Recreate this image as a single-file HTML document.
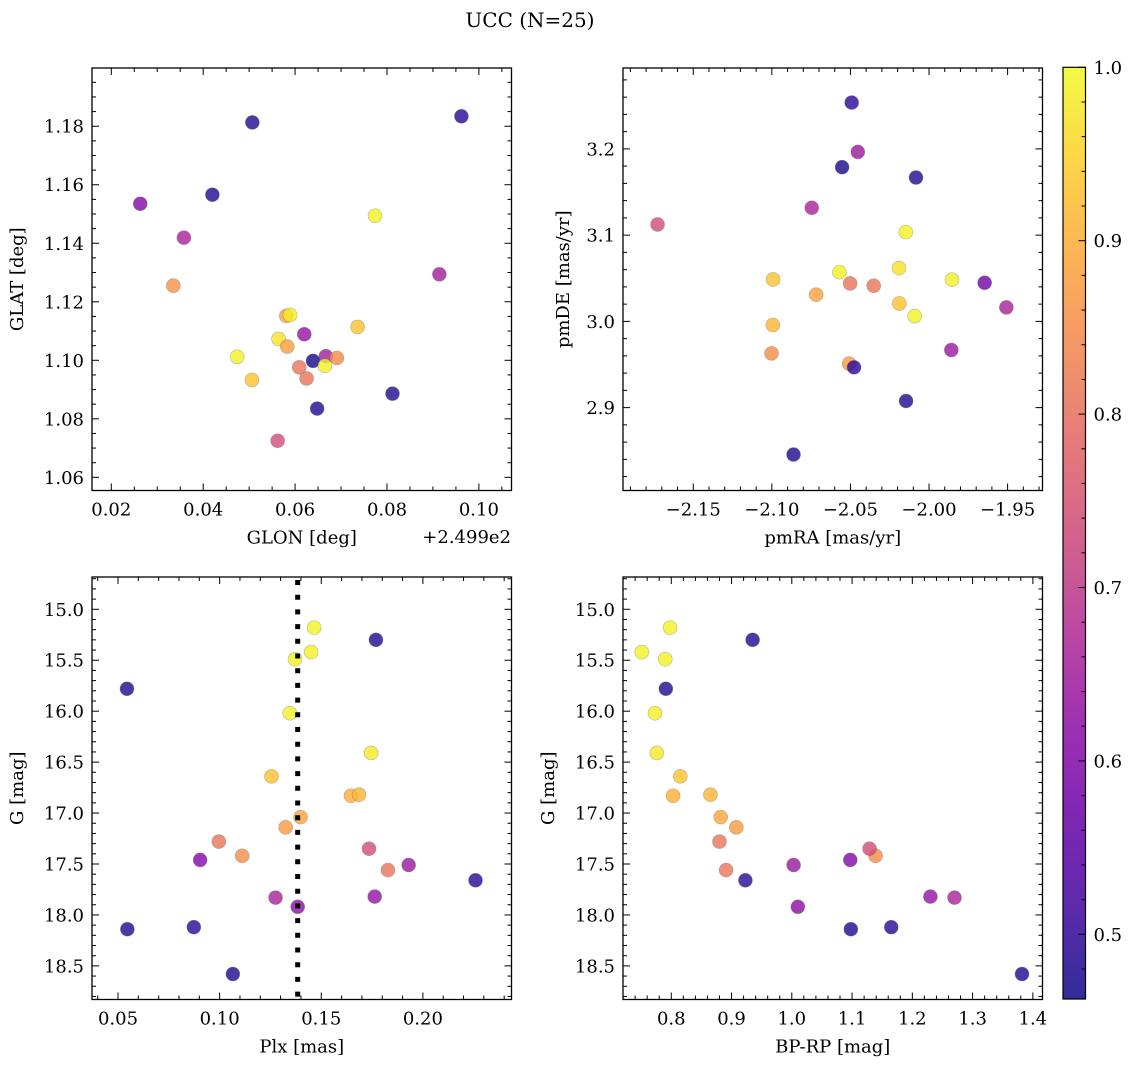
<!DOCTYPE html>
<html><head><meta charset="utf-8"><style>
html,body{margin:0;padding:0;background:#fff;}
svg{display:block;font-family:"DejaVu Serif","Liberation Serif",serif;}
</style></head><body>
<svg id="fig" width="1135" height="1067" viewBox="0 0 1135 1067" xmlns="http://www.w3.org/2000/svg">
<rect width="1135" height="1067" fill="#fff"/>
<text x="530" y="27" font-size="20" text-anchor="middle">UCC (N=25)</text>
</svg>
<script>
// ---- data ----
const glon = [0.0507,0.0962,0.0263,0.0420,0.0358,0.0774,0.0335,0.0914,0.0581,0.0589,0.0736,0.0620,0.0564,0.0583,0.0474,0.0667,0.0691,0.0639,0.0609,0.0665,0.0506,0.0625,0.0812,0.0648,0.0562];
const glat = [1.1813,1.1834,1.1535,1.1566,1.1419,1.1494,1.1255,1.1294,1.1152,1.1155,1.1114,1.1089,1.1073,1.1047,1.1012,1.1014,1.1008,1.0998,1.0976,1.0981,1.0933,1.0938,1.0886,1.0835,1.0725];
const probTL = [0.48,0.49,0.60,0.48,0.66,0.99,0.86,0.65,0.88,0.99,0.93,0.63,0.97,0.88,0.99,0.65,0.85,0.47,0.81,0.99,0.93,0.81,0.48,0.48,0.74];

const pmra = [-2.0492,-2.0453,-2.0553,-2.0083,-2.0746,-2.1727,-2.0148,-2.0992,-2.0570,-2.0502,-2.0352,-2.0191,-1.9854,-1.9646,-2.0718,-2.0189,-2.0091,-1.9508,-2.0994,-2.1002,-1.9858,-2.0508,-2.0477,-2.0146,-2.0862];
const pmde = [3.2537,3.1965,3.1788,3.1668,3.1317,3.1124,3.1035,3.0486,3.0571,3.0440,3.0413,3.0618,3.0483,3.0448,3.0309,3.0208,3.0062,3.0162,2.9958,2.9629,2.9668,2.9510,2.9467,2.9077,2.8456];
const probTR = [0.49,0.64,0.47,0.48,0.66,0.74,0.99,0.93,0.99,0.81,0.81,0.97,0.99,0.58,0.88,0.93,0.99,0.66,0.91,0.85,0.64,0.87,0.49,0.48,0.48];

const plx  = [0.1465,0.1769,0.1450,0.1371,0.0544,0.1345,0.1745,0.1255,0.1646,0.1686,0.1398,0.1325,0.0996,0.1111,0.0904,0.1735,0.1930,0.1828,0.2259,0.1275,0.1763,0.1384,0.0546,0.0873,0.1065];
const gPlx = [15.18,15.30,15.42,15.49,15.78,16.02,16.41,16.64,16.83,16.82,17.04,17.14,17.28,17.42,17.46,17.35,17.51,17.56,17.66,17.83,17.82,17.92,18.14,18.12,18.58];
const probBL = [0.99,0.48,0.99,0.99,0.48,0.99,0.98,0.93,0.90,0.91,0.89,0.87,0.81,0.85,0.60,0.74,0.64,0.81,0.49,0.66,0.63,0.62,0.48,0.49,0.48];
const plxLine = [0.1384];

const bprp = [0.798,0.935,0.751,0.790,0.791,0.773,0.776,0.815,0.803,0.865,0.882,0.908,0.880,1.139,1.097,1.129,1.003,0.891,0.923,1.270,1.230,1.010,1.098,1.165,1.382];
const gCmd = [15.18,15.30,15.42,15.49,15.78,16.02,16.41,16.64,16.83,16.82,17.04,17.14,17.28,17.42,17.46,17.35,17.51,17.56,17.66,17.83,17.82,17.92,18.14,18.12,18.58];
const probBR = [0.99,0.48,0.99,0.99,0.48,0.99,0.98,0.93,0.90,0.91,0.89,0.87,0.81,0.85,0.60,0.74,0.64,0.81,0.49,0.66,0.63,0.62,0.48,0.49,0.48];

const tlXTicks = ["0.02","0.04","0.06","0.08","0.10"];
const tlYTicks = ["1.06","1.08","1.10","1.12","1.14","1.16","1.18"];
const trXTicks = ["-2.15","-2.10","-2.05","-2.00","-1.95"];
const trYTicks = ["2.9","3.0","3.1","3.2"];
const bXTicks  = ["0.05","0.10","0.15","0.20"];
const gTicks   = ["15.0","15.5","16.0","16.5","17.0","17.5","18.0","18.5"];
const brXTicks = ["0.8","0.9","1.0","1.1","1.2","1.3","1.4"];
const cbTicks  = ["0.5","0.6","0.7","0.8","0.9","1.0"];
const cMin = 0.4627, cMax = 1.0;

// ---- helpers ----
const NS = "http://www.w3.org/2000/svg";
const FS = 18;
const svg = document.getElementById('fig');
function mk(tag, attrs, parent){const e=document.createElementNS(NS,tag);for(const k in attrs)e.setAttribute(k,attrs[k]);(parent||svg).appendChild(e);return e;}
const plasma=[[13,8,135],[65,4,157],[106,0,168],[143,13,164],[177,42,144],[204,71,120],[225,100,98],[242,132,75],[252,166,54],[252,206,37],[240,249,33]];
function cmap(v){let t=(v-cMin)/(cMax-cMin);t=Math.max(0,Math.min(1,t));const s=t*10,i=Math.min(9,Math.floor(s)),f=s-i;const a=plasma[i],b=plasma[i+1];return `rgb(${Math.round(a[0]+(b[0]-a[0])*f)},${Math.round(a[1]+(b[1]-a[1])*f)},${Math.round(a[2]+(b[2]-a[2])*f)})`;}
function fmt(s){return s.replace('-','\u2212');}

function panel(name, box, xd, yd, yInv, xMaj, yMaj, xMinStep, yMinStep, xs, ys, ps, xlab, ylab, ylabX){
  const [x0,y0,x1,y1]=box;
  const sx=v=>x0+(v-xd[0])/(xd[1]-xd[0])*(x1-x0);
  const sy=yInv? (v=>y0+(v-yd[0])/(yd[1]-yd[0])*(y1-y0)) : (v=>y1-(v-yd[0])/(yd[1]-yd[0])*(y1-y0));
  const g=mk('g',{});
  
  
  const tk=mk('g',{stroke:'#000','stroke-width':1},g);
  
  
  const xs0=Math.ceil(xd[0]/xMinStep-1e-6), xs1=Math.floor(xd[1]/xMinStep+1e-6);
  for(let k=xs0;k<=xs1;k++){const v=k*xMinStep,X=sx(v);const isMaj=xMaj.some(t=>Math.abs(parseFloat(t)-v)<xMinStep*0.1);const L=isMaj?7:4;
    mk('line',{x1:X,x2:X,y1:y1,y2:y1-L},tk);mk('line',{x1:X,x2:X,y1:y0,y2:y0+L},tk);}
  const ylo=Math.min(yd[0],yd[1]),yhi=Math.max(yd[0],yd[1]);
  const ys0=Math.ceil(ylo/yMinStep-1e-6), ys1=Math.floor(yhi/yMinStep+1e-6);
  for(let k=ys0;k<=ys1;k++){const v=k*yMinStep,Y=sy(v);const isMaj=yMaj.some(t=>Math.abs(parseFloat(t)-v)<yMinStep*0.1);const L=isMaj?7:4;
    mk('line',{x1:x0,x2:x0+L,y1:Y,y2:Y},tk);mk('line',{x1:x1,x2:x1-L,y1:Y,y2:Y},tk);}
  xMaj.forEach(t=>{const e=mk('text',{x:sx(parseFloat(t)),y:y1+25,'font-size':FS,'text-anchor':'middle'},g);e.textContent=fmt(t);
    
    });
  yMaj.forEach(t=>{const e=mk('text',{x:x0-8,y:sy(parseFloat(t))+6.5,'font-size':FS,'text-anchor':'end'},g);e.textContent=fmt(t);
    
    });
  const pts=mk('g',{},g);
  
  
  for(let i=0;i<xs.length;i++){
    const c=mk('circle',{cx:sx(xs[i]),cy:sy(ys[i]),r:7,fill:cmap(ps[i]),'fill-opacity':0.8,stroke:'#777','stroke-opacity':0.5,'stroke-width':0.6},pts);
    
    
  }
  const fr=mk('rect',{x:x0,y:y0,width:x1-x0,height:y1-y0,fill:'none',stroke:'#000','stroke-width':1.3},g);
  
  
  const xl=mk('text',{x:(x0+x1)/2,y:y1+53,'font-size':FS,'text-anchor':'middle'},g);xl.textContent=xlab;
  
  
  const yc=(y0+y1)/2;
  const yl=mk('text',{x:ylabX,y:yc,'font-size':FS,'text-anchor':'middle',transform:`rotate(-90 ${ylabX} ${yc})`},g);yl.textContent=ylab;
  
  
  return {sx,sy,g};
}

panel('glon-glat',[92,68,511.5,490.5],[0.0158,0.1071],[1.0555,1.1999],false,tlXTicks,tlYTicks,0.005,0.005,glon,glat,probTL,'GLON [deg]','GLAT [deg]',23);
const off=mk('text',{x:511,y:543,'font-size':FS,'text-anchor':'end'});off.textContent='+2.499e2';


panel('pm',[623,68,1042.5,490.5],[-2.1947,-1.9278],[2.8039,3.2938],false,trXTicks,trYTicks,0.01,0.02,pmra,pmde,probTR,'pmRA [mas/yr]','pmDE [mas/yr]',569);
const bl=panel('plx-g',[92,577,511.5,999.5],[0.0372,0.2436],[14.683,18.830],true,bXTicks,gTicks,0.01,0.1,plx,gPlx,probBL,'Plx [mas]','G [mag]',23);
plxLine.forEach(v=>{const l=mk('line',{x1:bl.sx(v),x2:bl.sx(v),y1:578,y2:999,stroke:'#000','stroke-width':5,'stroke-dasharray':'5 9.7','stroke-dashoffset':-2},bl.g);
  
  });
panel('cmd',[623,577,1042.5,999.5],[0.7199,1.416],[14.683,18.830],true,brXTicks,gTicks,0.02,0.1,bprp,gCmd,probBR,'BP-RP [mag]','G [mag]',554);

(function(){
  const x0=1063,x1=1085.5,y0=67.3,y1=999;
  const cb=mk('g',{});
  
  
  const defs=mk('defs',{},cb);
  const lg=mk('linearGradient',{id:'cbg',x1:0,y1:1,x2:0,y2:0},defs);
  for(let i=0;i<=20;i++){const v=cMin+(cMax-cMin)*i/20;mk('stop',{offset:i/20,'stop-color':cmap(v),'stop-opacity':0.85},lg);}
  mk('rect',{x:x0,y:y0,width:x1-x0,height:y1-y0,fill:'url(#cbg)',stroke:'#000','stroke-width':1.2},cb);
  const sy=v=>y1-(v-cMin)/(cMax-cMin)*(y1-y0);
  for(let k=24;k<=50;k++){const v=k*0.02;if(v<cMin)continue;const maj=(k%5===0);const Y=sy(v);
    mk('line',{x1:x1,x2:x1-(maj?7:4),y1:Y,y2:Y,stroke:'#000','stroke-width':1},cb);}
  cbTicks.forEach(t=>{const e=mk('text',{x:x1+8,y:sy(parseFloat(t))+6.5,'font-size':FS},cb);e.textContent=t;
    
    });
})();
</script>
</body></html>
